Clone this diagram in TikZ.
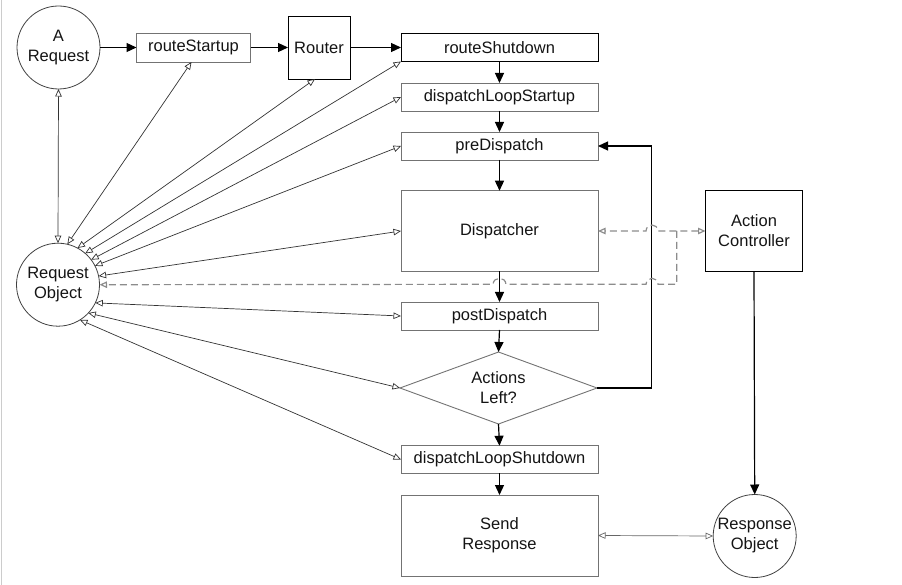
\documentclass[tikz,border=0pt]{standalone}
\usepackage{fontspec}
\setmainfont{Liberation Sans}
\usetikzlibrary{arrows.meta,shapes.geometric}
\begin{document}
\begin{tikzpicture}[x=1pt,y=-1pt,
  txt/.style={font=\fontsize{16.5}{20}\selectfont, text=black!92, align=center, inner sep=0pt, outer sep=0pt},
  graybox/.style={txt, rectangle, draw=black!55, line width=0.9pt},
  blackbox/.style={txt, rectangle, draw=black, line width=0.9pt},
  wide/.style={minimum width=197pt, minimum height=28pt},
  circ/.style={txt, circle, draw=black!75, line width=0.8pt, minimum size=83pt},
  flow/.style={draw=black, line width=1.2pt, -{Triangle[length=10pt,width=9pt]}},
  link/.style={draw=black!80, line width=0.7pt, {Triangle[open,length=7.5pt,width=6.5pt]}-{Triangle[open,length=7.5pt,width=6.5pt]}},
  dline/.style={draw=black!45, line width=1.2pt, dash pattern=on 7pt off 4pt}
]
\useasboundingbox (0,0) rectangle (902,585);
\draw[black!20, line width=1.5pt] (1.5,0) -- (1.5,585);

% nodes
\node[circ] (areq) at (58.5,47.5) {A\\Request};
\node[graybox, minimum width=114pt, minimum height=29pt] (rs) at (193.5,47.5) {routeStartup};
\node[blackbox, minimum width=62pt, minimum height=63pt] (router) at (319,47.5) {Router};
\node[blackbox, wide] (rsd) at (499.5,47.5) {routeShutdown};
\node[graybox, wide] (dls) at (499.5,97) {dispatchLoopStartup};
\node[graybox, wide] (pre) at (499.5,146) {preDispatch};
\node[graybox, wide, minimum height=80.5pt] (disp) at (499.5,231) {Dispatcher};
\node[graybox, wide] (post) at (499.5,316) {postDispatch};
\node[txt, diamond, draw=black!55, line width=0.9pt, minimum width=197pt, minimum height=72pt, aspect=2.74] (dia) at (498.5,388) {Actions\\Left?};
\node[graybox, wide, minimum height=27.5pt] (dlsd) at (499.5,459.5) {dispatchLoopShutdown};
\node[graybox, wide, minimum height=81pt] (send) at (499.5,535.5) {Send\\Response};
\node[blackbox, minimum width=97pt, minimum height=81.5pt] (ac) at (754,231) {Action\\Controller};
\node[circ] (resp) at (754.7,536) {Response\\Object};
\node[circ] (ro) at (58,284.7) {Request\\Object};

% main flow
\draw[flow] (areq.east) -- (rs.west);
\draw[flow] (rs.east) -- (router.west);
\draw[flow] (router.east) -- (rsd.west);
\draw[flow] (rsd.south) -- (dls.north);
\draw[flow] (dls.south) -- (pre.north);
\draw[flow] (pre.south) -- (disp.north);
\draw[flow] (disp.south) -- (post.north);
\draw[flow] (post.south) -- (dia.north);
\draw[flow] (dia.south) -- (dlsd.north);
\draw[flow] (dlsd.south) -- (send.north);
\draw[flow] (ac.south) -- (resp.north);
\coordinate (loop) at (651.7,388);
\draw[flow] (dia.east) -- (loop) |- (pre.east);

% request object links
\draw[link] (areq.south) -- (ro.north);
\draw[link] ([xshift=-2pt]rs.south) -- (ro.77);
\draw[link] ([xshift=-4pt]router.south) -- (ro.62);
\draw[link] (rsd.south west) -- (ro.49);
\draw[link] (dls.west) -- (ro.37);
\draw[link] (pre.west) -- (ro.27);
\draw[link] (disp.west) -- (ro.12);
\draw[link] (post.west) -- (ro.-26);
\draw[link] (dia.west) -- (ro.-43);
\draw[link] (dlsd.west) -- (ro.-58);
\draw[link, draw=black!60] (send.east) -- (resp.west);

% dashed links
\coordinate (j1) at (676.7,231);
\coordinate (j2) at (676.7,284.3);
\draw[dline, {Triangle[open,length=7.5pt,width=6.5pt]}-{Triangle[open,length=7.5pt,width=6.5pt]}]
  (ac.west) -- (658,231) .. controls (657.5,223) and (646.5,223) .. (646,231) -- (disp.east);
\draw[dline, -{Triangle[open,length=7.5pt,width=6.5pt]}]
  (j1) -- (j2) -- (658,284.3) .. controls (657.5,276.3) and (646.5,276.3) .. (646,284.3)
  -- (506,284.3) .. controls (505.5,276.3) and (493.5,276.3) .. (493,284.3) -- (ro.east);
\end{tikzpicture}
\end{document}
